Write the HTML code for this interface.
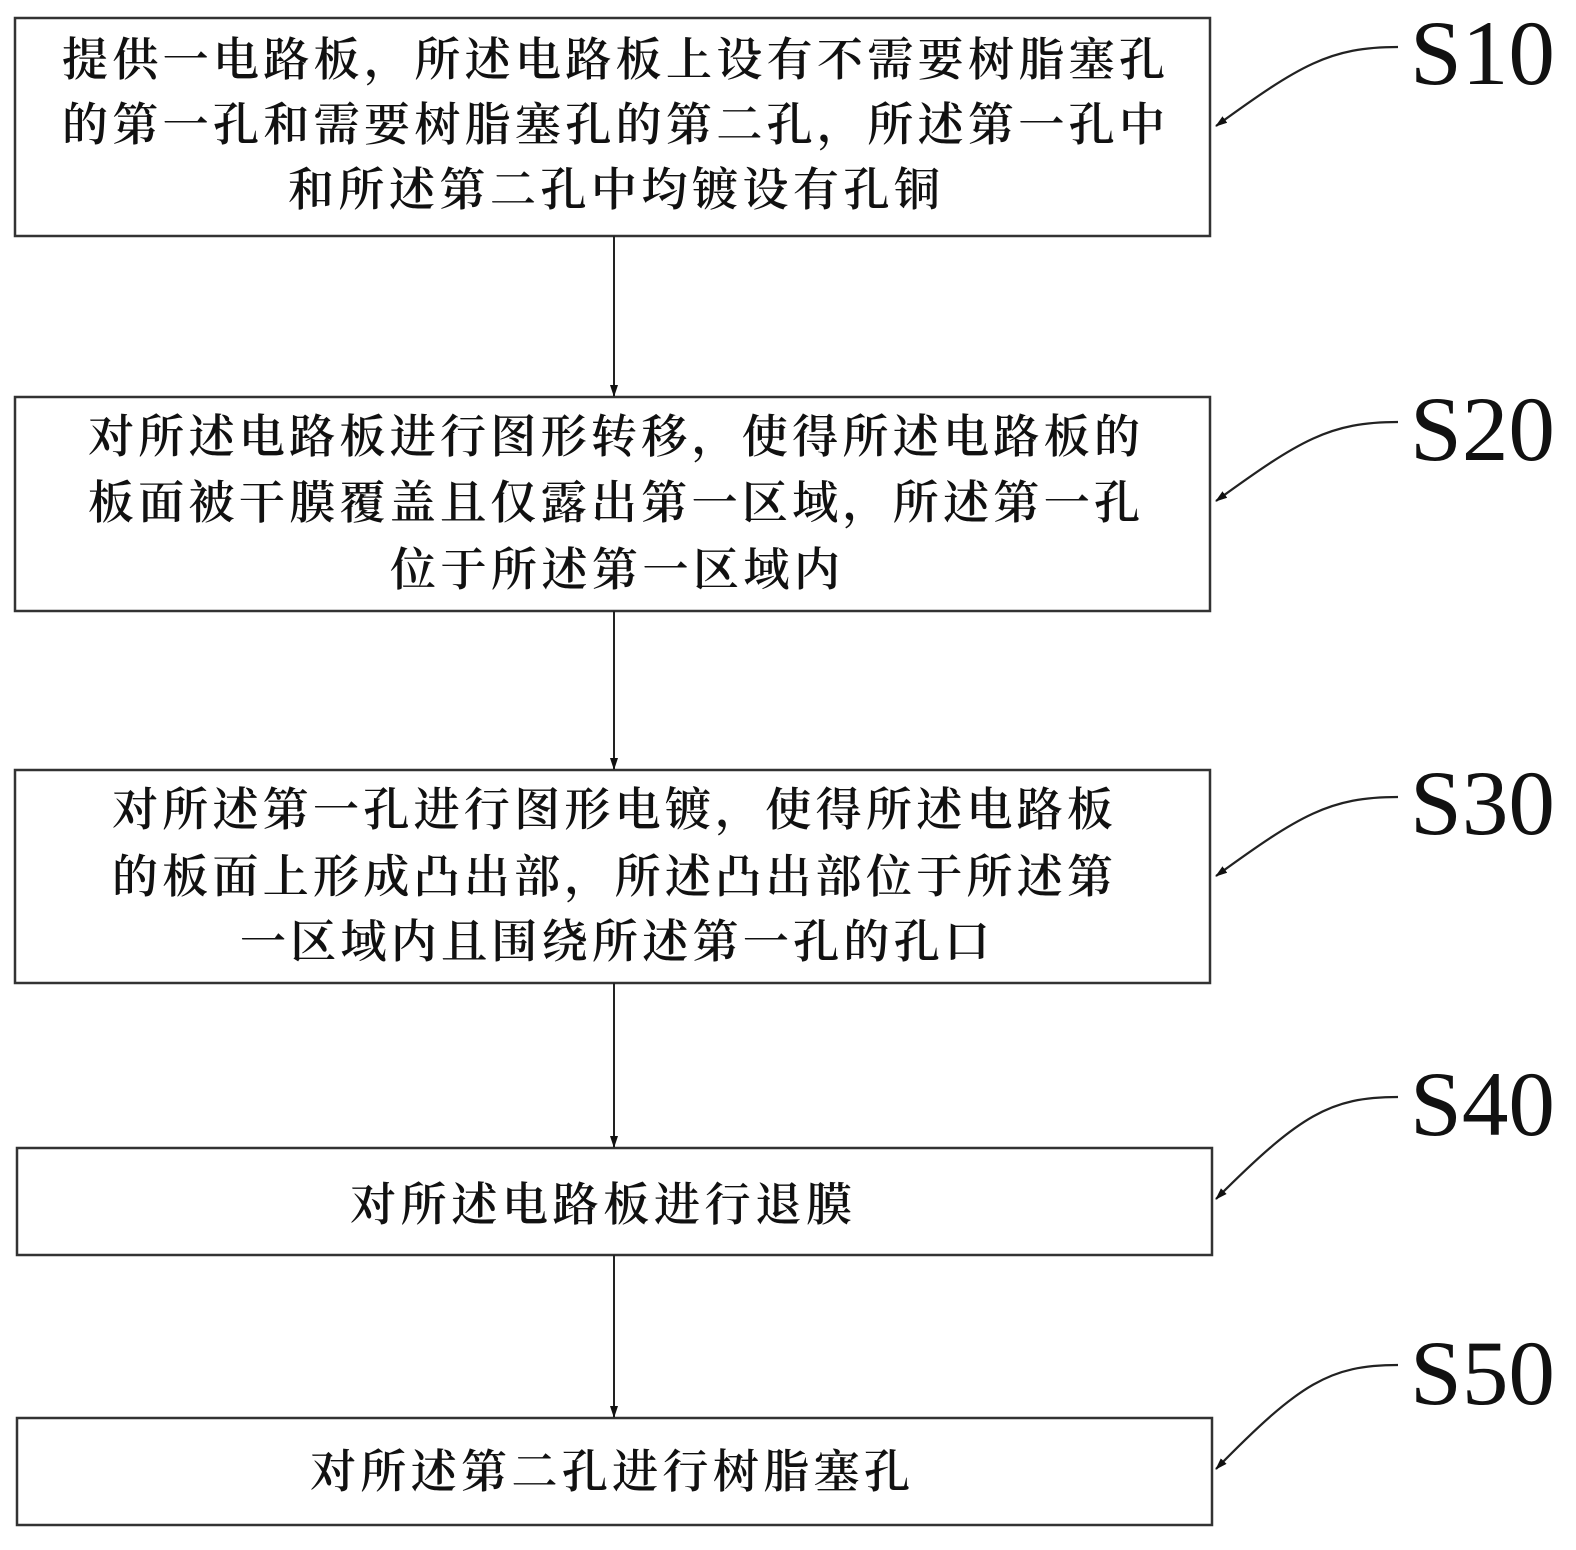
<!DOCTYPE html>
<html><head><meta charset="utf-8"><style>body{margin:0;background:#fff}svg{display:block}</style></head><body>
<svg width="1576" height="1550" xmlns="http://www.w3.org/2000/svg">
<defs><marker id="a" markerWidth="12" markerHeight="10" refX="11" refY="5" orient="auto" markerUnits="userSpaceOnUse"><path d="M0,1 L12,5 L0,9 Z" fill="#111"/></marker></defs>
<g fill="none" stroke="#333" stroke-width="2.5">
<rect x="15" y="18" width="1195" height="218"/>
<rect x="15" y="397" width="1195" height="214"/>
<rect x="15" y="770" width="1195" height="213"/>
<rect x="17" y="1148" width="1195" height="107"/>
<rect x="17" y="1418" width="1195" height="107"/>
</g>
<g stroke="#222" stroke-width="2" marker-end="url(#a)">
<line x1="614" y1="236" x2="614" y2="396"/>
<line x1="614" y1="611" x2="614" y2="769"/>
<line x1="614" y1="983" x2="614" y2="1147"/>
<line x1="614" y1="1255" x2="614" y2="1417"/>
</g>
<g fill="none" stroke="#222" stroke-width="2.2" marker-end="url(#a)">
<path d="M1398,47 C1330,47 1300,65 1216,126"/>
<path d="M1398,422 C1330,422 1300,440 1216,501"/>
<path d="M1398,797 C1330,797 1300,815 1216,876"/>
<path d="M1398,1097 C1330,1097 1300,1115 1216,1199"/>
<path d="M1398,1365 C1330,1365 1300,1383 1216,1469"/>
</g>
<g font-family="Liberation Serif, serif" font-size="92" fill="#111" lengthAdjust="spacingAndGlyphs">
<text x="1410" y="84" textLength="145" lengthAdjust="spacingAndGlyphs">S10</text>
<text x="1410" y="460" textLength="145" lengthAdjust="spacingAndGlyphs">S20</text>
<text x="1410" y="834" textLength="145" lengthAdjust="spacingAndGlyphs">S30</text>
<text x="1410" y="1135" textLength="145" lengthAdjust="spacingAndGlyphs">S40</text>
<text x="1410" y="1404" textLength="145" lengthAdjust="spacingAndGlyphs">S50</text>
</g>
<g font-family="Liberation Serif, 'Noto Serif CJK SC', serif" font-size="46" font-weight="600" fill="#111" dominant-baseline="central">
<text x="62" y="60" textLength="1103">提供一电路板，所述电路板上设有不需要树脂塞孔</text>
<text x="62" y="125" textLength="1103">的第一孔和需要树脂塞孔的第二孔，所述第一孔中</text>
<text x="288" y="190" textLength="652">和所述第二孔中均镀设有孔铜</text>
<text x="88" y="437" textLength="1052">对所述电路板进行图形转移，使得所述电路板的</text>
<text x="88" y="503" textLength="1052">板面被干膜覆盖且仅露出第一区域，所述第一孔</text>
<text x="390" y="570" textLength="450">位于所述第一区域内</text>
<text x="112" y="810" textLength="1001">对所述第一孔进行图形电镀，使得所述电路板</text>
<text x="112" y="877" textLength="1001">的板面上形成凸出部，所述凸出部位于所述第</text>
<text x="240" y="942" textLength="750">一区域内且围绕所述第一孔的孔口</text>
<text x="350" y="1205" textLength="502">对所述电路板进行退膜</text>
<text x="310" y="1472" textLength="600">对所述第二孔进行树脂塞孔</text>
</g>
</svg>
</body></html>
